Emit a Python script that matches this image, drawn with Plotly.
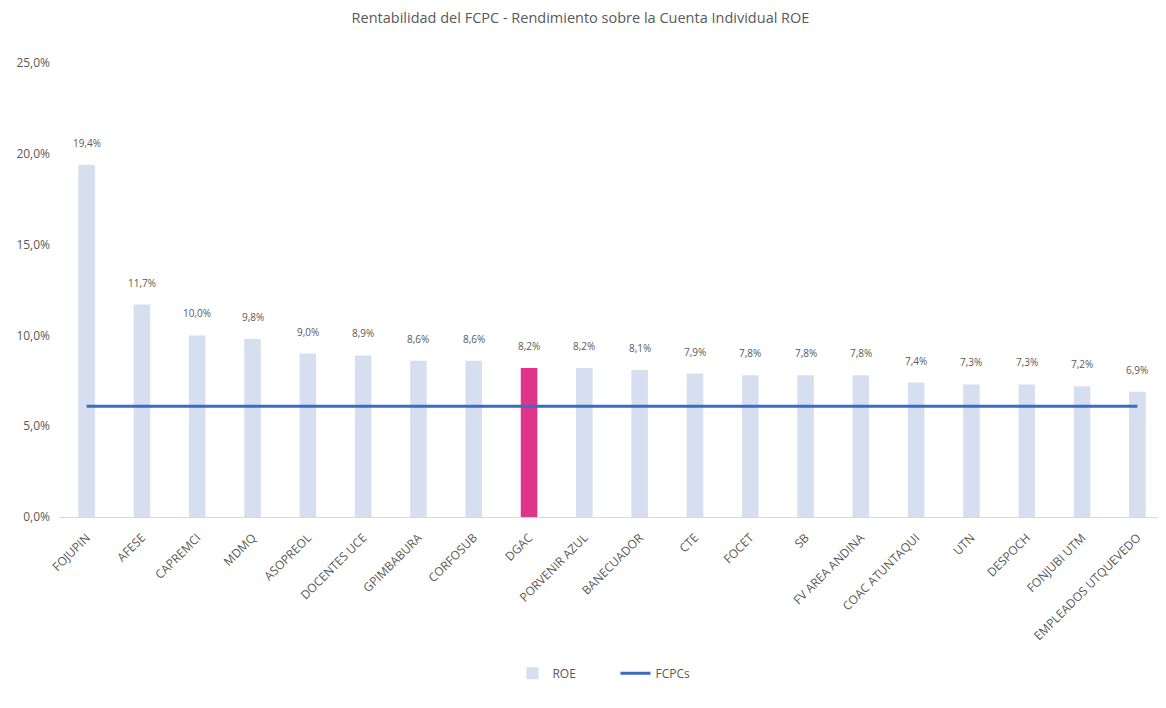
import plotly.graph_objects as go

categories = ["FOJUPIN", "AFESE", "CAPREMCI", "MDMQ", "ASOPREOL", "DOCENTES UCE",
              "GPIMBABURA", "CORFOSUB", "DGAC", "PORVENIR AZUL", "BANECUADOR", "CTE",
              "FOCET", "SB", "FV AREA ANDINA", "COAC ATUNTAQUI", "UTN", "DESPOCH",
              "FONJUBI UTM", "EMPLEADOS UTQUEVEDO"]
roe = [19.4, 11.7, 10.0, 9.8, 9.0, 8.9, 8.6, 8.6, 8.2, 8.2, 8.1, 7.9,
       7.8, 7.8, 7.8, 7.4, 7.3, 7.3, 7.2, 6.9]
fcpcs = [6.1] * len(categories)
highlight = "DGAC"
y_ticks = [0, 5, 10, 15, 20, 25]
y_tick_labels = ["0,0%", "5,0%", "10,0%", "15,0%", "20,0%", "25,0%"]

BAR = "#d6dff0"
PINK = "#e0338a"
LINE = "#3a6bc6"
TXT = "#595959"
FONT = "Open Sans, Liberation Sans, sans-serif"

colors = [PINK if c == highlight else BAR for c in categories]

fig = go.Figure()
fig.add_trace(go.Bar(x=categories, y=roe, name="ROE", marker=dict(color=colors, line_width=0),
                     width=0.3))
fig.add_trace(go.Scatter(x=categories, y=fcpcs, name="FCPCs", mode="lines",
                         line=dict(color=LINE, width=3)))

for c, v in zip(categories, roe):
    fig.add_annotation(x=c, y=v, text=f"{v:.1f}%".replace(".", ","), showarrow=False,
                       yanchor="bottom", yshift=13, font=dict(size=10, color=TXT, family=FONT))

fig.update_layout(
    width=1166, height=708,
    paper_bgcolor="white", plot_bgcolor="white",
    margin=dict(l=51, r=9, t=55, b=199, autoexpand=False),
    title=dict(text="Rentabilidad del FCPC - Rendimiento sobre la Cuenta Individual ROE",
               x=0.491, xanchor="center", y=0.986, yanchor="middle",
               font=dict(size=14.5, color=TXT, family=FONT)),
    font=dict(family=FONT, color=TXT, size=12),
    showlegend=True,
    legend=dict(orientation="h", x=0.41, xanchor="left", y=-0.344, yanchor="middle",
                entrywidth=58, font=dict(size=12, color=TXT, family=FONT)),
)
fig.update_xaxes(tickangle=-45, showgrid=False, showline=True, linecolor="#d9d9d9",
                 linewidth=1, ticks="", ticklabelstandoff=8,
                 tickfont=dict(size=12, color=TXT, family=FONT))
fig.update_yaxes(range=[0, 25], tickvals=y_ticks, ticktext=y_tick_labels, showgrid=False,
                 zeroline=False, showline=False, ticks="", ticklabelstandoff=8,
                 tickfont=dict(size=12, color=TXT, family=FONT))

fig.write_html("out.html")
